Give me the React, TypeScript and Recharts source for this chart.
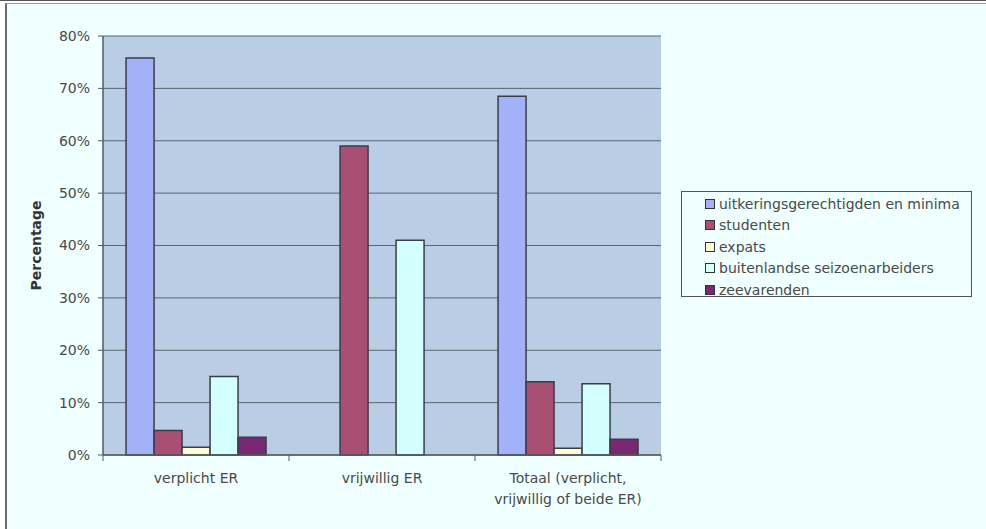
import { Bar, BarChart, CartesianGrid, Legend, ReferenceArea, XAxis, YAxis } from "recharts";

const categories = ["verplicht ER", "vrijwillig ER", "Totaal (verplicht, vrijwillig of beide ER)"];

const uitkeringsgerechtigden = [75.8, 0, 68.5];
const studenten = [4.7, 59.0, 14.0];
const expats = [1.5, 0, 1.3];
const seizoenarbeiders = [15.0, 41.0, 13.6];
const zeevarenden = [3.4, 0, 3.0];

const yTicks = [0, 10, 20, 30, 40, 50, 60, 70, 80];

const series = [
  { key: "uitk", name: "uitkeringsgerechtigden en minima", color: "#A3B1F8", values: uitkeringsgerechtigden },
  { key: "stud", name: "studenten", color: "#A94F74", values: studenten },
  { key: "expats", name: "expats", color: "#FFFBD2", values: expats },
  { key: "seizoen", name: "buitenlandse seizoenarbeiders", color: "#D4FFFF", values: seizoenarbeiders },
  { key: "zee", name: "zeevarenden", color: "#782873", values: zeevarenden },
];

const data = categories.map((name, i) => {
  const row: Record<string, string | number> = { name };
  series.forEach((s) => {
    row[s.key] = s.values[i];
  });
  return row;
});

const FONT = "'DejaVu Sans', Verdana, sans-serif";
const TEXT = "#4a4a4a";
const AXIS = "#555b63";

function CategoryTick(props: any) {
  const { x, y, payload, index } = props;
  const half = payload?.offset ?? 0;
  const label: string = payload.value;
  const parts = label.split(", ");
  const lines = parts.length > 1 ? [parts[0] + ",", parts.slice(1).join(", ")] : [label];
  return (
    <g>
      <line x1={x - half} y1={y - 8} x2={x - half} y2={y - 2} stroke={AXIS} strokeWidth={1} />
      {index === categories.length - 1 ? (
        <line x1={x + half} y1={y - 8} x2={x + half} y2={y - 2} stroke={AXIS} strokeWidth={1} />
      ) : null}
      <text x={x} y={y + 20} textAnchor="middle" fill={TEXT} fontSize={14} fontFamily={FONT}>
        {lines.map((line, i) => (
          <tspan key={i} x={x} dy={i === 0 ? 0 : 21}>
            {line}
          </tspan>
        ))}
      </text>
    </g>
  );
}

function LegendBox() {
  return (
    <div
      style={{
        border: "1px solid #555",
        background: "#F0FFFF",
        width: 291,
        height: 106,
        boxSizing: "border-box",
        padding: "1px 0 0 23px",
        fontFamily: FONT,
        fontSize: 14,
        color: TEXT,
      }}
    >
      {series.map((s) => (
        <div key={s.key} style={{ display: "flex", alignItems: "center", height: 21.5, whiteSpace: "nowrap" }}>
          <span
            style={{
              display: "inline-block",
              width: 8,
              height: 8,
              background: s.color,
              border: "1px solid #333",
              marginRight: 4,
              flexShrink: 0,
            }}
          />
          <span>{s.name}</span>
        </div>
      ))}
    </div>
  );
}

export default function App() {
  return (
    <div style={{ position: "fixed", left: 0, top: 0, width: 986, height: 529, overflow: "hidden", background: "#fff" }}>
      <div style={{ position: "absolute", left: 0, top: 0, width: 986, height: 1, background: "#555" }} />
      <div
        style={{
          position: "absolute",
          left: 5,
          top: 3,
          width: 1100,
          height: 700,
          borderLeft: "2px solid #6c6c6c",
          borderTop: "1px solid #9aa0a6",
          background: "#F0FFFF",
        }}
      />
      <div style={{ position: "absolute", left: 0, top: 0 }}>
        <BarChart
          width={986}
          height={529}
          data={data}
          margin={{ top: 36, right: 325, bottom: 14, left: 0 }}
          barCategoryGap="12.4%"
          barGap={0}
        >
          <CartesianGrid fill="#B9CDE5" fillOpacity={1} stroke="#5b6570" vertical={false} />
          <ReferenceArea fill="none" stroke="#8595ab" strokeWidth={1.5} ifOverflow="visible" />
          <XAxis
            dataKey="name"
            height={60}
            interval={0}
            tickLine={false}
            axisLine={{ stroke: AXIS, strokeWidth: 1.5 }}
            tick={<CategoryTick />}
          />
          <YAxis
            width={103}
            domain={[0, 80]}
            ticks={yTicks}
            interval={0}
            tickFormatter={(v) => `${v}%`}
            tick={{ fill: TEXT, fontSize: 14, fontFamily: FONT }}
            tickSize={5}
            tickMargin={8}
            tickLine={{ stroke: AXIS }}
            axisLine={{ stroke: AXIS, strokeWidth: 1.5 }}
            label={{
              value: "Percentage",
              angle: -90,
              position: "insideLeft",
              offset: 36,
              style: { fill: "#333", fontSize: 14, fontWeight: "bold", fontFamily: FONT, textAnchor: "middle" },
            }}
          />
          <Legend
            layout="vertical"
            align="center"
            verticalAlign="middle"
            wrapperStyle={{ left: 681, top: 191, width: 291 }}
            content={() => <LegendBox />}
          />
          {series.map((s) => (
            <Bar
              key={s.key}
              dataKey={s.key}
              name={s.name}
              fill={s.color}
              stroke="#3a3d48"
              strokeWidth={1.5}
              isAnimationActive={false}
            />
          ))}
        </BarChart>
      </div>
    </div>
  );
}
